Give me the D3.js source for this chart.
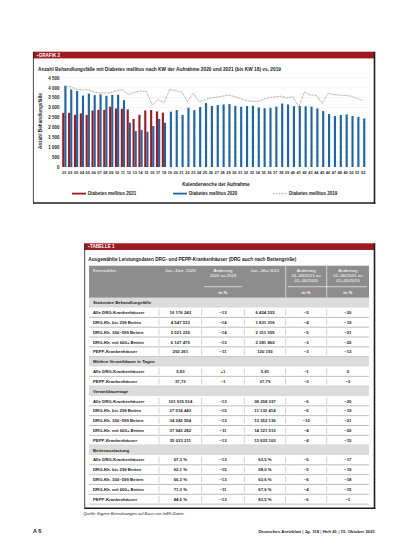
<!DOCTYPE html>
<html>
<head>
<meta charset="utf-8">
<script src="https://cdn.jsdelivr.net/npm/d3@7"></script>
<style>
  body { margin: 0; background: #fff; }
  svg { display: block; font-family: "Liberation Sans", Arial, sans-serif; }
</style>
</head>
<body>
<svg id="page" width="407" height="551"></svg>
<script>
// ======================
// DATA – GRAFIK 2
// ======================
var weekLabels = ["01","02","03","04","05","06","07","08","09","10",
  "11","12","13","14","15","16","17","18","19","20",
  "21","22","23","24","25","26","27","28","29","30",
  "31","32","33","34","35","36","37","38","39","40",
  "41","42","43","44","45","46","47","48","49","50",
  "51","52"];

// Diabetes mellitus 2021 (bis KW 18)
var dm2021 = [2730, 2730, 2630, 2700, 2620, 2850, 2880, 2880, 3040, 2950,
  2930, 2900, 2420, 2630, 2850, 2870, 2800, 2740];

// Diabetes mellitus 2020
var dm2020 = [4080, 3910, 3830, 3600, 3700, 3620, 3660, 3590, 3630, 3640,
  3370, 2230, 1810, 1860, 1780, 2060, 2420, 2230, 2790, 2870,
  2620, 2990, 2870, 3020, 3220, 3080, 3120, 3150, 3170, 3080,
  3040, 3070, 3090, 3000, 2960, 2980, 3040, 3200, 3150, 3070,
  3070, 3060, 3040, 2950, 2820, 2670, 2570, 2620, 2650, 2570,
  2530, 2450];

// Diabetes mellitus 2019
var dm2019 = [4090, 4050, 3930, 3880, 3900, 3780, 3730, 3730, 3750, 3870,
  3880, 3650, 3770, 3830, 3800, 3120, 3410, 3220, 3910, 3840,
  3790, 3290, 3710, 3290, 3400, 3480, 3520, 3570, 3620, 3560,
  3450, 3350, 3310, 3300, 3410, 3500, 3530, 3570, 3470, 3550,
  3040, 3790, 3620, 3620, 3200, 3710, 3650, 3620, 3600, 3570,
  3440, 3360];

var yTicks = [0, 500, 1000, 1500, 2000, 2500, 3000, 3500, 4000, 4500];
var yTickLabels = ["0", "500", "1 000", "1 500", "2 000", "2 500", "3 000", "3 500", "4 000", "4 500"];

var legendLabels = ["Diabetes mellitus 2021", "Diabetes mellitus 2020", "Diabetes mellitus 2019"];

// ======================
// DATA – TABELLE 1
// ======================
var tabSections = ["Stationäre Behandlungsfälle", "Mittlere Verweildauer in Tagen", "Verweildauertage", "Bettenauslastung"];

var rowsFaelle = [
  ["Alle DRG-Krankenhäuser", "16 176 243", "–13", "6 424 535", "–5", "–20"],
  ["DRG-Kh. bis 299 Betten", "4 547 533", "–14", "1 831 316", "–4", "–19"],
  ["DRG-Kh. 300–599 Betten", "5 521 235", "–14", "2 311 359", "–5", "–21"],
  ["DRG-Kh. mit 600+ Betten", "6 107 475", "–13", "2 281 860", "–3", "–20"],
  ["PEPP-Krankenhäuser", "292 261", "–11", "120 193", "–3", "–13"]
];
var rowsVerweildauer = [
  ["Alle DRG-Krankenhäuser", "5,83", "+1", "5,81", "–1", "0"],
  ["PEPP-Krankenhäuser", "37,73", "–1", "37,79", "–3", "–3"]
];
var rowsTage = [
  ["Alle DRG-Krankenhäuser", "101 915 514", "–13", "38 258 337", "–6", "–20"],
  ["DRG-Kh. bis 299 Betten", "27 514 443", "–15", "11 132 414", "–6", "–19"],
  ["DRG-Kh. 300–599 Betten", "34 242 554", "–13", "13 352 136", "–10", "–21"],
  ["DRG-Kh. mit 600+ Betten", "37 943 282", "–11", "14 121 513", "–4", "–20"],
  ["PEPP-Krankenhäuser", "35 033 211", "–13", "13 635 103", "–4", "–15"]
];
var rowsAuslastung = [
  ["Alle DRG-Krankenhäuser", "67,3 %", "–13", "63,5 %", "–5", "–17"],
  ["DRG-Kh. bis 299 Betten", "62,1 %", "–15", "58,0 %", "–5", "–19"],
  ["DRG-Kh. 300–599 Betten", "66,3 %", "–13", "63,6 %", "–6", "–18"],
  ["DRG-Kh. mit 600+ Betten", "71,3 %", "–11", "67,6 %", "–4", "–15"],
  ["PEPP-Krankenhäuser", "84,5 %", "–13", "83,5 %", "–6", "–1"]
];

var headCols = [
  ["Kennzahlen"],
  ["Jan.–Dez. 2020"],
  ["Änderung", "2020 zu 2019"],
  ["Jan.–Mai 2021"],
  ["Änderung", "01–05/2021 zu", "01–05/2020"],
  ["Änderung", "01–05/2021 zu", "01–05/2019"]
];

// ########
// # MAIN #
// ########
var svg = d3.select("#page");
var RED = "#9d1b21", BLUE = "#1f66a5", INK = "#1c1c1c";

svg.append("rect").attr("width", 407).attr("height", 551).attr("fill", "#fff");

// framed box with red caption bar
function drawBox(x0, y0, x1, y1, caption) {
  var g = svg.append("g");
  g.append("rect").attr("x", x0).attr("y", y0).attr("width", x1 - x0).attr("height", 6.7).attr("fill", RED);
  g.append("text").attr("x", x0 + 4).attr("y", y0 + 5.1)
    .attr("font-size", 4.6).attr("font-weight", "bold").attr("fill", "#fff")
    .text(caption);
  g.append("line").attr("x1", x0 + 0.4).attr("x2", x0 + 0.4).attr("y1", y0).attr("y2", y1)
    .attr("stroke", INK).attr("stroke-width", 0.8);
  g.append("line").attr("x1", x1).attr("x2", x1).attr("y1", y0).attr("y2", y1 + 0.8)
    .attr("stroke", INK).attr("stroke-width", 1.6);
  g.append("line").attr("x1", x0).attr("x2", x1 + 0.8).attr("y1", y1).attr("y2", y1)
    .attr("stroke", INK).attr("stroke-width", 1.6);
  return g;
}

// ====================
// GRAFIK 2
// ====================
drawBox(33, 51.7, 374.5, 203, "\u25AAGRAFIK 2");

svg.append("text").attr("x", 38).attr("y", 71)
  .attr("font-size", 5.2).attr("font-weight", "bold").attr("fill", INK)
  .attr("textLength", 243).attr("lengthAdjust", "spacingAndGlyphs")
  .text("Anzahl Behandlungsfälle mit Diabetes mellitus nach KW der Aufnahme 2020 und 2021 (bis KW 18) vs. 2019");

var x = d3.scaleBand().domain(weekLabels).range([61.4, 366.1]).paddingInner(0.27).paddingOuter(0.135);
var xs = d3.scaleBand().domain(["2021", "2020"]).range([0, x.bandwidth()]);
var y = d3.scaleLinear().domain([0, 4500]).range([167, 77.7]);

var chart = svg.append("g");

// grid
chart.append("g").selectAll("line").data(yTicks).enter().append("line")
  .attr("x1", 60).attr("x2", 368)
  .attr("y1", function (d) { return y(d); }).attr("y2", function (d) { return y(d); })
  .attr("stroke", "#e6e6e6").attr("stroke-width", 0.4);

// y axis
var yAxis = chart.append("g").attr("transform", "translate(59.5,0)")
  .call(d3.axisLeft(y).tickValues(yTicks).tickSize(0).tickPadding(0)
    .tickFormat(function (d, i) { return yTickLabels[i]; }));
yAxis.select(".domain").remove();
yAxis.selectAll("text").attr("font-size", 4.5).attr("font-family", null).attr("fill", INK).attr("font-weight", "bold");

svg.append("text").attr("transform", "translate(42.3,121) rotate(-90)")
  .attr("text-anchor", "middle").attr("font-size", 4.7).attr("font-weight", "bold").attr("fill", INK)
  .text("Anzahl Behandlungsfälle");

// x axis
var xAxis = chart.append("g").attr("transform", "translate(0,167)")
  .call(d3.axisBottom(x).tickSize(0).tickPadding(4));
xAxis.select(".domain").remove();
xAxis.selectAll("text").attr("font-size", 3.9).attr("font-family", null).attr("fill", INK).attr("font-weight", "bold");

svg.append("text").attr("x", 216).attr("y", 185.6)
  .attr("text-anchor", "middle").attr("font-size", 4.7).attr("font-weight", "bold").attr("fill", INK)
  .text("Kalenderwoche der Aufnahme");

// bars 2020
chart.append("g").selectAll("rect").data(dm2020).enter().append("rect")
  .attr("x", function (d, i) { return x(weekLabels[i]) + xs("2020"); })
  .attr("width", xs.bandwidth())
  .attr("y", function (d) { return y(d); })
  .attr("height", function (d) { return y(0) - y(d); })
  .attr("fill", BLUE);

// bars 2021
chart.append("g").selectAll("rect").data(dm2021).enter().append("rect")
  .attr("x", function (d, i) { return x(weekLabels[i]) + xs("2021"); })
  .attr("width", xs.bandwidth())
  .attr("y", function (d) { return y(d); })
  .attr("height", function (d) { return y(0) - y(d); })
  .attr("fill", RED);

// line 2019
var line2019 = d3.line()
  .x(function (d, i) { return x(weekLabels[i]) + x.bandwidth() / 2; })
  .y(function (d) { return y(d); });
chart.append("path").datum(dm2019)
  .attr("d", line2019).attr("fill", "none")
  .attr("stroke", "#5e5e5e").attr("stroke-width", 0.65).attr("stroke-dasharray", "0.8,0.7");

// legend
var legendX = [72, 173, 273];
var leg = svg.append("g").selectAll("g").data(legendLabels).enter().append("g")
  .attr("transform", function (d, i) { return "translate(" + legendX[i] + ",193.6)"; });
leg.append("line").attr("x1", 0).attr("x2", 14).attr("y1", 0).attr("y2", 0)
  .attr("stroke", function (d, i) { return [RED, BLUE, "#5e5e5e"][i]; })
  .attr("stroke-width", function (d, i) { return i < 2 ? 1.8 : 0.6; })
  .attr("stroke-dasharray", function (d, i) { return i < 2 ? null : "0.8,0.7"; });
leg.append("text").attr("x", 16).attr("y", 1.6)
  .attr("font-size", 4.5).attr("font-weight", "bold").attr("fill", INK)
  .text(function (d) { return d; });

// ====================
// TABELLE 1
// ====================
drawBox(84.3, 243.3, 374.5, 508.3, "\u25AATABELLE 1");

svg.append("text").attr("x", 88.3).attr("y", 261)
  .attr("font-size", 5).attr("font-weight", "bold").attr("fill", INK)
  .attr("textLength", 208).attr("lengthAdjust", "spacingAndGlyphs")
  .text("Ausgewählte Leistungsdaten DRG- und PEPP-Krankenhäuser (DRG auch nach Bettengröße)");

var colEdges = [89, 159, 201.7, 244.3, 285.7, 326.7, 369];
var colMid = function (c) { return (colEdges[c] + colEdges[c + 1]) / 2; };
var tab = svg.append("g");

// header
tab.append("rect").attr("x", colEdges[0]).attr("y", 265.7)
  .attr("width", colEdges[6] - colEdges[0]).attr("height", 32).attr("fill", "#8d8d8d");
tab.selectAll(".hsep").data([4, 5]).enter().append("line")
  .attr("x1", function (c) { return colEdges[c]; }).attr("x2", function (c) { return colEdges[c]; })
  .attr("y1", 265.7).attr("y2", 297.7).attr("stroke", "#fff").attr("stroke-width", 0.6);
tab.selectAll(".hund").data([[2, 3], [4, 6]]).enter().append("line")
  .attr("x1", function (d) { return colEdges[d[0]] + 2; }).attr("x2", function (d) { return colEdges[d[1]] - 2; })
  .attr("y1", 286.7).attr("y2", 286.7).attr("stroke", "#fff").attr("stroke-width", 0.6);

headCols.forEach(function (lines, c) {
  tab.append("g").selectAll("text").data(lines).enter().append("text")
    .attr("x", c === 0 ? colEdges[0] + 4 : colMid(c))
    .attr("y", function (d, k) { return 271.5 + k * 5; })
    .attr("text-anchor", c === 0 ? "start" : "middle")
    .attr("font-size", 4.4).attr("fill", "#fff")
    .text(function (d) { return d; });
});
tab.selectAll(".inpc").data([2, 4, 5]).enter().append("text")
  .attr("x", function (c) { return colMid(c); }).attr("y", 293.8)
  .attr("text-anchor", "middle").attr("font-size", 4.4).attr("font-weight", "bold").attr("fill", "#fff")
  .text("in %");

// body rows
var body = [];
[rowsFaelle, rowsVerweildauer, rowsTage, rowsAuslastung].forEach(function (rows, s) {
  body.push({ section: true, cells: [tabSections[s]] });
  rows.forEach(function (r) { body.push({ section: false, cells: r }); });
});

var rowTop = d3.scaleLinear().domain([0, 1]).range([297.7, 307.53]);
var rowH = rowTop(1) - rowTop(0);

var row = tab.append("g").selectAll("g").data(body).enter().append("g")
  .attr("transform", function (d, i) { return "translate(0," + rowTop(i) + ")"; });

row.filter(function (d) { return d.section; }).append("rect")
  .attr("x", colEdges[0]).attr("width", colEdges[6] - colEdges[0])
  .attr("y", 0.3).attr("height", rowH - 0.3).attr("fill", "#dcdcdc");

row.filter(function (d) { return !d.section; }).selectAll(".vsep").data([1, 2, 3, 4, 5]).enter().append("line")
  .attr("x1", function (c) { return colEdges[c]; }).attr("x2", function (c) { return colEdges[c]; })
  .attr("y1", 1.6).attr("y2", rowH - 1.6).attr("stroke", "#a0a0a0").attr("stroke-width", 0.5);

row.filter(function (d) { return !d.section; }).append("line")
  .attr("x1", colEdges[0]).attr("x2", colEdges[6]).attr("y1", rowH).attr("y2", rowH)
  .attr("stroke", "#a0a0a0").attr("stroke-width", 0.7);

row.selectAll("text").data(function (d) { return d.cells.map(function (c) { return { t: c, sec: d.section }; }); })
  .enter().append("text")
  .attr("x", function (d, c) { return c === 0 ? colEdges[0] + 4 : colMid(c); })
  .attr("y", rowH / 2 + 1.6)
  .attr("text-anchor", function (d, c) { return c === 0 ? "start" : "middle"; })
  .attr("font-size", 4.3).attr("fill", INK)
  .attr("font-weight", "bold")
  .text(function (d) { return d.t; });

// source + footer
svg.append("text").attr("x", 83.5).attr("y", 514.5)
  .attr("font-size", 3.9).attr("font-style", "italic").attr("fill", INK)
  .attr("textLength", 100).attr("lengthAdjust", "spacingAndGlyphs")
  .text("Quelle: Eigene Berechnungen auf Basis von InEK-Daten");

svg.append("text").attr("x", 33).attr("y", 532.5)
  .attr("font-size", 5.4).attr("font-weight", "bold").attr("fill", INK)
  .text("A 6");

var foot = svg.append("text").attr("x", 375).attr("y", 532.5).attr("text-anchor", "end")
  .attr("font-size", 4.3).attr("font-weight", "bold").attr("fill", INK);
["Deutsches Ärzteblatt", " | ", "Jg. 118", " | ", "Heft 41", " | ", "15. Oktober 2021"].forEach(function (s) {
  foot.append("tspan").attr("fill", s === " | " ? "#2f76b9" : INK).text(s);
});
</script>
</body>
</html>
